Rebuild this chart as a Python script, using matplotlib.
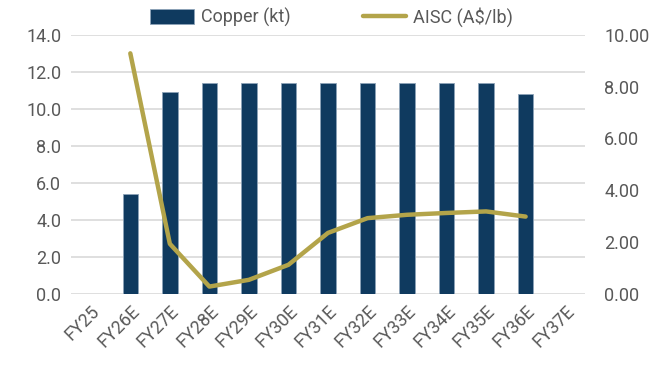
import matplotlib.pyplot as plt
import numpy as np

years = ["FY25", "FY26E", "FY27E", "FY28E", "FY29E", "FY30E", "FY31E",
         "FY32E", "FY33E", "FY34E", "FY35E", "FY36E", "FY37E"]
copper_kt = [0, 5.4, 10.9, 11.4, 11.4, 11.4, 11.4, 11.4, 11.4, 11.4, 11.4, 10.8, 0]
aisc = [None, 9.28, 1.93, 0.28, 0.54, 1.12, 2.35, 2.92, 3.05, 3.12, 3.18, 2.98, None]

bar_col = "#0F3A5F"
line_col = "#B3A44A"
txt_col = "#595959"

plt.rcParams["font.family"] = ["Roboto", "DejaVu Sans"]

fig = plt.figure(figsize=(6.7, 3.65), dpi=100)
ax = fig.add_axes([0.106, 0.195, 0.767, 0.71])
ax2 = ax.twinx()

x = np.arange(len(years))
ax.bar(x, copper_kt, width=0.39, color=bar_col, edgecolor="#8DA3B8",
       linewidth=0.6, zorder=2, label="Copper (kt)")

lx = [i for i, v in enumerate(aisc) if v is not None]
ly = [v for v in aisc if v is not None]
ax2.plot(lx, ly, color=line_col, linewidth=3.2, solid_capstyle="round",
         label="AISC (A$/lb)")

ax.set_xlim(-0.5, len(years) - 0.5)
ax.set_ylim(0, 14)
ax.set_yticks(np.arange(0, 14.1, 2))
ax.set_yticklabels([f"{v:.1f}" for v in np.arange(0, 14.1, 2)])
ax2.set_ylim(0, 10)
ax2.set_yticks(np.arange(0, 10.1, 2))
ax2.set_yticklabels([f"{v:.2f}" for v in np.arange(0, 10.1, 2)])

ax.set_xticks(x)
ax.set_xticklabels(years, rotation=45, ha="right", rotation_mode="anchor")

ax.grid(axis="y", color="#D9D9D9", linewidth=1.2, zorder=0)
ax.set_axisbelow(True)
for a in (ax, ax2):
    for s in a.spines.values():
        s.set_visible(False)
    a.tick_params(length=0, labelsize=13, colors=txt_col)
ax.tick_params(axis="y", pad=7)
ax.tick_params(axis="x", pad=6)
ax2.tick_params(axis="y", pad=14)

h1, l1 = ax.get_legend_handles_labels()
h2, l2 = ax2.get_legend_handles_labels()
fig.legend(h1 + h2, l1 + l2, loc="upper center", bbox_to_anchor=(0.495, 1.025),
           ncol=2, frameon=False, fontsize=13, labelcolor=txt_col,
           handlelength=2.4, handleheight=0.9, columnspacing=4.0,
           handletextpad=0.4)

fig.savefig("out.png", dpi=100)
